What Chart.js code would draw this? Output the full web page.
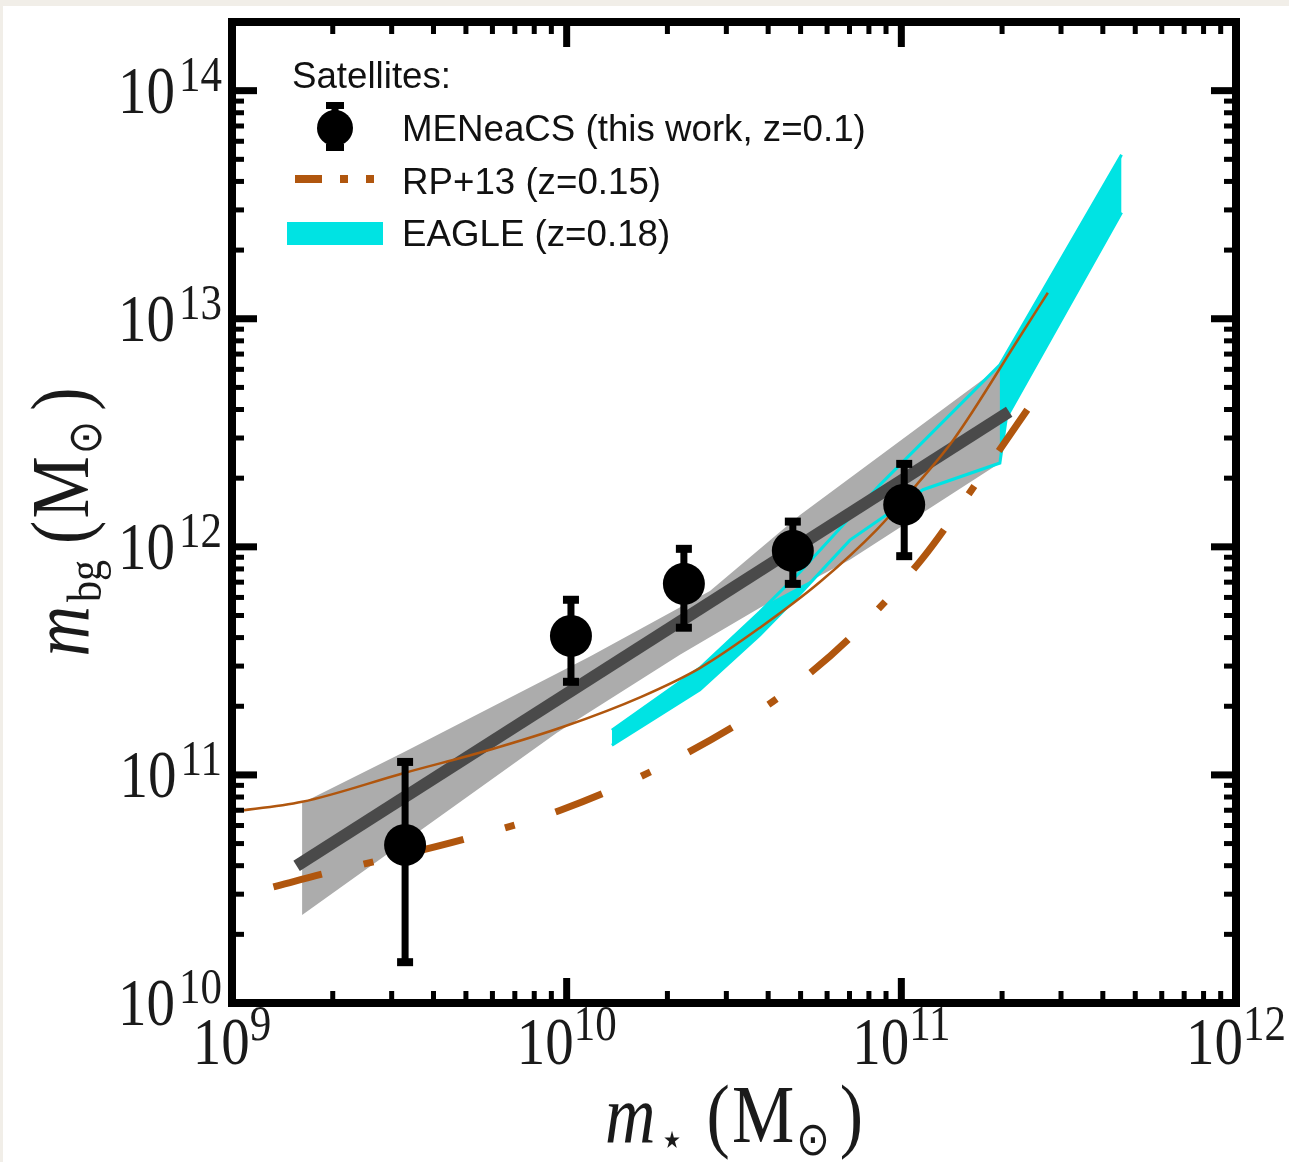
<!DOCTYPE html>
<html>
<head>
<meta charset="utf-8">
<script src="https://cdn.jsdelivr.net/npm/chart.js@4.4.1/dist/chart.umd.min.js"></script>
<style>
  html, body { margin: 0; padding: 0; background: #ffffff; }
  canvas { display: block; }
</style>
</head>
<body>
<canvas id="massChart" width="1289" height="1162"></canvas>
<script>
// MENeaCS satellites (this work)
const satStellar = [3.29e9, 1.03e10, 2.24e10, 4.74e10, 1.02e11];
const satHalo = [4.93e10, 4.07e11, 6.88e11, 9.6e11, 1.53e12];
const satHaloLow = [1.51e10, 2.56e11, 4.42e11, 6.88e11, 9.1e11];
const satHaloHigh = [1.14e11, 5.86e11, 9.8e11, 1.29e12, 2.31e12];

// power-law fit and its band
const fitStellar = [1.56e9, 2.10e11];
const fitHalo = [3.99e10, 3.91e12];
const bandUpperStellar = [1.62e9, 3.27e9, 1.17e10, 2.68e10, 4.98e10, 1.97e11];
const bandUpperHalo = [7.53e10, 1.26e11, 3.30e11, 6.40e11, 1.38e12, 6.15e12];
const bandLowerStellar = [1.62e9, 3.27e9, 9.35e9, 2.18e10, 3.78e10, 7.02e10, 1.97e11];
const bandLowerHalo = [2.43e10, 5.08e10, 1.53e11, 3.36e11, 5.40e11, 8.77e11, 2.33e12];

// RP+13 (z=0.15)
const rpStellar = [1.33e9, 1.87e9, 2.49e9, 5.11e9, 9.62e9, 1.80e10, 3.37e10, 4.43e10, 7.02e10, 1.16e11, 1.72e11, 2.54e11];
const rpHalo = [3.23e10, 3.68e10, 4.07e10, 5.30e10, 7.02e10, 1.04e11, 1.73e11, 2.26e11, 3.99e11, 8.95e11, 2.01e12, 4.59e12];

// thin model curve
const modelStellar = [1.0e9, 1.62e9, 3.27e9, 5.90e9, 9.82e9, 1.67e10, 2.50e10, 3.78e10, 5.71e10, 8.45e10, 1.11e11, 1.43e11, 2.26e11, 2.74e11];
const modelHalo = [6.89e10, 7.62e10, 1.02e11, 1.29e11, 1.63e11, 2.20e11, 2.94e11, 4.42e11, 7.01e11, 1.19e12, 1.87e12, 2.94e12, 8.34e12, 1.30e13];

// EAGLE (z=0.18)
const eagleUpperStellar = [1.365e10, 2.50e10, 3.78e10, 4.98e10, 8.63e10, 1.97e11, 4.55e11];
const eagleUpperHalo = [1.57e11, 2.94e11, 5.19e11, 7.76e11, 1.87e12, 6.28e12, 5.24e13];
const eagleLowerStellar = [1.365e10, 2.50e10, 3.78e10, 4.98e10, 7.02e10, 1.16e11, 1.97e11, 2.06e11, 4.55e11];
const eagleLowerHalo = [1.35e11, 2.36e11, 4.11e11, 6.22e11, 1.07e12, 1.78e12, 2.33e12, 3.68e12, 2.92e13];

// decades used for ticks and labels
const xDecades = [9, 10, 11, 12];
const yDecades = [10, 11, 12, 13, 14];

const BROWN = '#b0560e';
const CYAN = '#00e3e3';
const SERIF = '"Liberation Serif", "DejaVu Serif", serif';
const SANS = '"Liberation Sans", Arial, sans-serif';

function pairs(xs, ys) {
    return xs.map((x, i) => ({ x: x, y: ys[i] }));
}

function lineSet(label, xs, ys, extra) {
    return Object.assign({
        label: label,
        data: pairs(xs, ys),
        showLine: true,
        pointRadius: 0,
        borderColor: 'rgba(0,0,0,0)',
        borderWidth: 0,
        fill: false
    }, extra);
}

// draw a row of text pieces (vertically stretched like the original figure)
function drawPieces(ctx, pieces, cx, baseY, sy) {
    let total = 0;
    pieces.forEach(p => { ctx.font = p.font; p.w = ctx.measureText(p.t).width; total += p.w + (p.gap || 0); });
    let x = cx - total / 2;
    pieces.forEach(p => {
        ctx.save();
        ctx.translate(x, baseY + (p.dy || 0));
        ctx.scale(1, sy);
        ctx.font = p.font;
        ctx.fillText(p.t, 0, 0);
        ctx.restore();
        x += p.w + (p.gap || 0);
    });
}

const errorBars = {
    id: 'errorBars',
    afterDatasetsDraw(chart) {
        const { ctx, scales: { x, y } } = chart;
        ctx.save();
        ctx.fillStyle = '#000';
        satStellar.forEach((m, i) => {
            const px = x.getPixelForValue(m);
            const top = y.getPixelForValue(satHaloHigh[i]);
            const bot = y.getPixelForValue(satHaloLow[i]);
            ctx.fillRect(px - 3.5, top, 7, bot - top);
            ctx.fillRect(px - 8, top - 4, 16, 8);
            ctx.fillRect(px - 8, bot - 4, 16, 8);
        });
        ctx.restore();
    }
};

const frameAndAxes = {
    id: 'frameAndAxes',
    beforeDraw(chart) {
        const ctx = chart.ctx;
        ctx.save();
        ctx.fillStyle = '#f1eee8';
        ctx.fillRect(0, 0, chart.width, chart.height);
        ctx.fillStyle = '#ffffff';
        ctx.fillRect(3, 6, chart.width - 3, chart.height - 6);
        ctx.restore();
    },
    afterDraw(chart) {
        const { ctx, chartArea: a, scales: { x, y } } = chart;
        ctx.save();
        ctx.fillStyle = '#000';

        // inward ticks on all four sides
        xDecades.forEach(d => {
            for (let m = 1; m <= 9; m++) {
                const v = m * Math.pow(10, d);
                if (v < x.min * 0.999 || v > x.max * 1.001) continue;
                const px = x.getPixelForValue(v);
                const len = m === 1 ? 25 : 12, w = m === 1 ? 7 : 5;
                ctx.fillRect(px - w / 2, a.bottom - len, w, len);
                ctx.fillRect(px - w / 2, a.top, w, len);
            }
        });
        yDecades.forEach(d => {
            for (let m = 1; m <= 9; m++) {
                const v = m * Math.pow(10, d);
                if (v < y.min * 0.999 || v > y.max * 1.001) continue;
                const py = y.getPixelForValue(v);
                const len = m === 1 ? 25 : 12, w = m === 1 ? 7 : 5;
                ctx.fillRect(a.left, py - w / 2, len, w);
                ctx.fillRect(a.right - len, py - w / 2, len, w);
            }
        });

        // frame
        ctx.lineWidth = 8;
        ctx.strokeStyle = '#000';
        ctx.strokeRect(a.left, a.top, a.right - a.left, a.bottom - a.top);

        // tick labels 10^k
        ctx.fillStyle = '#1a1a1a';
        ctx.textBaseline = 'alphabetic';
        ctx.textAlign = 'left';
        const baseFont = '57px ' + SERIF, expFont = '43px ' + SERIF, sy = 1.18;
        xDecades.forEach(d => {
            const px = x.getPixelForValue(Math.pow(10, d));
            ctx.font = baseFont;
            const w1 = ctx.measureText('10').width;
            ctx.font = expFont;
            const w2 = ctx.measureText(String(d)).width;
            const left = px - (w1 + w2) / 2;
            drawPieces(ctx, [{ t: '10', font: baseFont }], left + w1 / 2, 1064, sy);
            drawPieces(ctx, [{ t: String(d), font: expFont }], left + w1 + w2 / 2, 1040, sy);
        });
        yDecades.forEach(d => {
            const py = y.getPixelForValue(Math.pow(10, d));
            ctx.font = expFont;
            const w2 = ctx.measureText(String(d)).width;
            ctx.font = baseFont;
            const w1 = ctx.measureText('10').width;
            const right = 222;
            drawPieces(ctx, [{ t: String(d), font: expFont }], right - w2 / 2, py, sy);
            drawPieces(ctx, [{ t: '10', font: baseFont }], right - w2 - 4 - w1 / 2, py + 22, sy);
        });

        // axis titles
        const big = '70px ' + SERIF, bigIt = 'italic 70px ' + SERIF;
        const sub = '40px "DejaVu Sans", sans-serif', subSerif = '42px ' + SERIF;
        drawPieces(ctx, [
            { t: 'm', font: bigIt, gap: 4 },
            { t: '\u22C6', font: sub, dy: 13, gap: 22 },
            { t: '(', font: big, gap: 2 },
            { t: 'M', font: big, gap: 2 },
            { t: '\u2299', font: sub, dy: 13, gap: 10 },
            { t: ')', font: big }
        ], (a.left + a.right) / 2, 1142, sy);

        ctx.save();
        ctx.translate(88, 522);
        ctx.rotate(-Math.PI / 2);
        drawPieces(ctx, [
            { t: 'm', font: bigIt, gap: 4 },
            { t: 'bg', font: subSerif, dy: 13, gap: 16 },
            { t: '(', font: big, gap: 2 },
            { t: 'M', font: big, gap: 2 },
            { t: '\u2299', font: sub, dy: 13, gap: 10 },
            { t: ')', font: big }
        ], 0, 0, sy);
        ctx.restore();

        // legend inside the plot
        const ds = chart.data.datasets;
        ctx.fillStyle = '#111';
        ctx.font = '36.7px ' + SANS;
        ctx.fillText('Satellites:', 292, 88);
        ctx.fillText(ds[0].label, 402, 141);
        ctx.fillText(ds[2].label, 402, 194);
        ctx.fillText(ds[8].label, 402, 246);

        ctx.fillStyle = '#000';
        ctx.beginPath();
        ctx.arc(335, 128, 18, 0, Math.PI * 2);
        ctx.fill();
        ctx.fillRect(331.5, 104, 7, 46);
        ctx.fillRect(326, 102, 18, 7);
        ctx.fillRect(326, 144, 18, 7);

        ctx.fillStyle = BROWN;
        ctx.fillRect(295, 175, 27, 8);
        ctx.fillRect(340, 175, 8, 8);
        ctx.fillRect(366, 175, 8, 8);

        ctx.fillStyle = CYAN;
        ctx.fillRect(287, 222, 96, 23);
        ctx.restore();
    }
};

const datasets = [
    {
        label: 'MENeaCS (this work, z=0.1)',
        data: pairs(satStellar, satHalo),
        showLine: false,
        pointRadius: 21,
        pointBackgroundColor: '#000',
        pointBorderWidth: 0,
        order: 0
    },
    lineSet('model', modelStellar, modelHalo,
        { borderColor: BROWN, borderWidth: 2.5, cubicInterpolationMode: 'monotone', order: 1 }),
    lineSet('RP+13 (z=0.15)', rpStellar, rpHalo,
        { borderColor: BROWN, borderWidth: 7, borderDash: [50, 43, 10, 43], cubicInterpolationMode: 'monotone', order: 2 }),
    lineSet('fit', fitStellar, fitHalo,
        { borderColor: '#4a4a4a', borderWidth: 12, order: 3 }),
    lineSet('EAGLE upper edge', eagleUpperStellar, eagleUpperHalo,
        { borderColor: CYAN, borderWidth: 3, order: 4 }),
    lineSet('EAGLE lower edge', eagleLowerStellar, eagleLowerHalo,
        { borderColor: CYAN, borderWidth: 3, order: 4 }),
    lineSet('band upper', bandUpperStellar, bandUpperHalo,
        { fill: 7, backgroundColor: '#acacac', order: 6 }),
    lineSet('band lower', bandLowerStellar, bandLowerHalo, { order: 6 }),
    lineSet('EAGLE (z=0.18)', eagleUpperStellar, eagleUpperHalo,
        { fill: 9, backgroundColor: CYAN, order: 8 }),
    lineSet('EAGLE lower', eagleLowerStellar, eagleLowerHalo, { order: 8 })
];

new Chart(document.getElementById('massChart').getContext('2d'), {
    type: 'line',
    data: { datasets: datasets },
    options: {
        responsive: false,
        animation: false,
        events: [],
        layout: { padding: { left: 232, right: 53, top: 22, bottom: 159 } },
        scales: {
            x: { type: 'logarithmic', min: 1e9, max: 1e12, display: false },
            y: { type: 'logarithmic', min: 1e10, max: 2e14, display: false }
        },
        plugins: {
            legend: { display: false },
            tooltip: { enabled: false },
            filler: { propagate: false }
        }
    },
    plugins: [errorBars, frameAndAxes]
});
</script>
</body>
</html>
